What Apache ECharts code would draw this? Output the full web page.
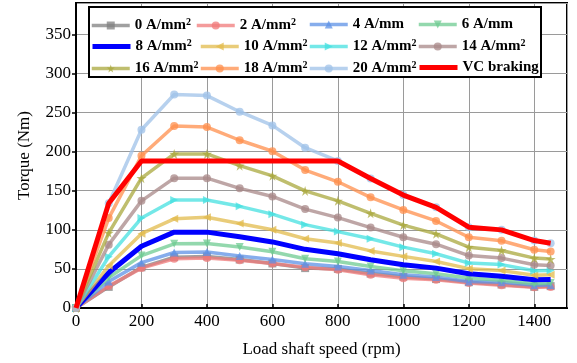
<!DOCTYPE html>
<html>
<head>
<meta charset="utf-8">
<script src="https://cdn.jsdelivr.net/npm/echarts@6/dist/echarts.min.js"></script>
<style>
html,body{margin:0;padding:0;background:#fff;}
#chart{width:577px;height:363px;}
</style>
</head>
<body>
<div id="chart"></div>
<script>
var speeds = [0,100,200,300,400,500,600,700,800,900,1000,1100,1200,1300,1400,1450];
var seriesNames = ['0 A/mm²','2 A/mm²','4 A/mm','6 A/mm','8 A/mm²','10 A/mm²','12 A/mm²','14 A/mm²','16 A/mm²','18 A/mm²','20 A/mm²','VC braking'];
var torque0  = [0,27,52,65,66,62,57,51,50,44,40,37,33,30,27,28];
var torque2  = [0,28,51,63,64,61,57,52,49,42.5,38,36,32,29,26.5,27];
var torque4  = [0,34,58,71,71.5,66.5,62,56.5,53,48,42.5,39.5,34,33,29,29.5];
var torque6  = [0,39,67,82,82.5,78,72,63,59.5,53,47.7,43.8,38.3,35.4,31,32];
var torque8  = [0,45,79,97,97,91,84.5,75,69.4,61.8,55.3,51,43.8,40.5,36.2,36.5];
var torque10 = [0,54,95,114,116,108,100,88.5,83,73,66,59.5,50.3,47.8,42,42.5];
var torque12 = [0,65.6,115,138,138,130,120,106.6,97.7,88.5,77.8,69.4,57.4,55.5,47.7,48];
var torque14 = [0,81,137,166,166,153,142.6,126.5,115.6,102.8,90.5,81.6,67,63.8,55.3,54.4];
var torque16 = [0,96,166,197,197,182,169,149.7,137,121,106,94.8,77.8,73.6,63.8,62.6];
var torque18 = [0,115,194.6,232.7,231.4,214.5,200.5,176.4,161.4,141.5,125.4,111.3,90.5,86,74.5,72.3];
var torque20 = [0,134,228,273,271.6,251,233.5,205,188,165.6,144.4,128.7,103.3,99.9,86.3,82.9];
var torqueVC = [0,134,188,188,188,188,188,188,188,165.6,144.4,128.7,103.3,99.9,86.3,82.9];
var xTicks = [0,200,400,600,800,1000,1200,1400];
var yTicks = [0,50,100,150,200,250,300,350];

var allData = [torque0,torque2,torque4,torque6,torque8,torque10,torque12,torque14,torque16,torque18,torque20,torqueVC];
var colors = ['#808080','#f07a7a','#5e92e6','#6fcb92','#0000ff','#e2bb4c','#45e0e0','#a88888','#a9a83e','#ff8f4c','#9fc2e8','#ff0000'];
var starPath = 'path://M50,0 L61,35 L98,35 L68,57 L79,91 L50,70 L21,91 L32,57 L2,35 L39,35 Z';
var symbols = ['rect','circle','triangle','triangle','none','triangle','triangle','circle',starPath,'circle','circle','none'];
var rotates = [0,0,0,180,0,90,-90,0,0,0,0,0];
var widths = [3.5,3.5,3.5,3.5,5,3.5,3.5,3.5,3.5,3.5,3.5,5];
var opac = [0.75,0.75,0.75,0.75,1,0.75,0.75,0.75,0.75,0.75,0.75,1];

var FONT = '"Liberation Serif","Times New Roman",serif';

var series = allData.map(function(arr, i){
  return {
    name: seriesNames[i],
    type: 'line',
    data: arr.map(function(v, j){ return [speeds[j], v]; }),
    symbol: symbols[i],
    symbolSize: i===8 ? 10 : 8,
    symbolRotate: rotates[i],
    showSymbol: symbols[i] !== 'none',
    lineStyle: {color: colors[i], width: widths[i], opacity: opac[i]},
    itemStyle: {color: colors[i], opacity: opac[i]},
    z: 2 + i,
    animation: false
  };
});

// legend layout: 3 rows x 4 columns
var rowTops = [17, 38, 60];
var colLefts = [[90,90,90],[195,199,199],[308,308,308],[417,417,417]];
var legends = [];
seriesNames.forEach(function(n, i){
  var row = Math.floor(i/4), col = i%4;
  var item = {name: n};
  if (symbols[i] === 'none') { item.itemStyle = {opacity: 0}; }
  legends.push({
    data: [item],
    left: colLefts[col][row],
    top: rowTops[row],
    padding: 0,
    z: 10,
    itemWidth: 38,
    itemHeight: 10,
    itemGap: 0,
    selectedMode: false,
    lineStyle: {width: 'inherit'},
    formatter: function(name){ return name.replace('²','{sup|2}'); },
    textStyle: {
      fontFamily: FONT, fontWeight: 'bold', fontSize: 15, color: '#000',
      rich: {
        sup: {fontFamily: FONT, fontWeight: 'bold', fontSize: 10, color:'#000', verticalAlign: 'top', padding:[0,0,7,0]}
      }
    }
  });
});

var chart = echarts.init(document.getElementById('chart'), null, {renderer:'canvas'});
chart.setOption({
  animation: false,
  backgroundColor: '#fff',
  grid: {left: 76, right: 10, top: 3, bottom: 52, show: true, borderColor: '#000', borderWidth: 2},
  legend: legends,
  xAxis: {
    type: 'value', min: 0, max: 1500, interval: 200,
    name: 'Load shaft speed (rpm)', nameLocation: 'middle', nameGap: 33,
    nameTextStyle: {fontFamily: FONT, fontSize: 17, color: '#000'},
    axisLine: {show: true, onZero: false, lineStyle: {color: '#000', width: 2}},
    axisTick: {show: true, inside: true, length: 4, lineStyle: {color:'#000', width: 1.5}},
    axisLabel: {fontFamily: FONT, fontSize: 17, color: '#000', margin: 5, showMaxLabel: false,
      formatter: function(v){ return xTicks.indexOf(v) >= 0 ? String(v) : ''; }},
    splitLine: {show: true, lineStyle: {color: '#9a9a9a', width: 1}}
  },
  yAxis: {
    type: 'value', min: 0, max: 390, interval: 50,
    name: 'Torque (Nm)', nameLocation: 'middle', nameGap: 43,
    nameTextStyle: {fontFamily: FONT, fontSize: 17, color: '#000'},
    axisLine: {show: true, onZero: false, lineStyle: {color: '#000', width: 2}},
    axisTick: {show: true, length: 4, lineStyle: {color:'#000', width: 1.5}},
    axisLabel: {fontFamily: FONT, fontSize: 17, color: '#000', margin: 5, showMaxLabel: false,
      formatter: function(v){ return yTicks.indexOf(v) >= 0 ? String(v) : ''; }},
    splitLine: {show: true, lineStyle: {color: '#9a9a9a', width: 1}}
  },
  graphic: [{
    type: 'rect', left: 88, top: 6, z: 1,
    shape: {width: 452, height: 70},
    style: {fill: '#fff', stroke: '#000', lineWidth: 2}
  }],
  series: series
});
</script>
</body>
</html>
